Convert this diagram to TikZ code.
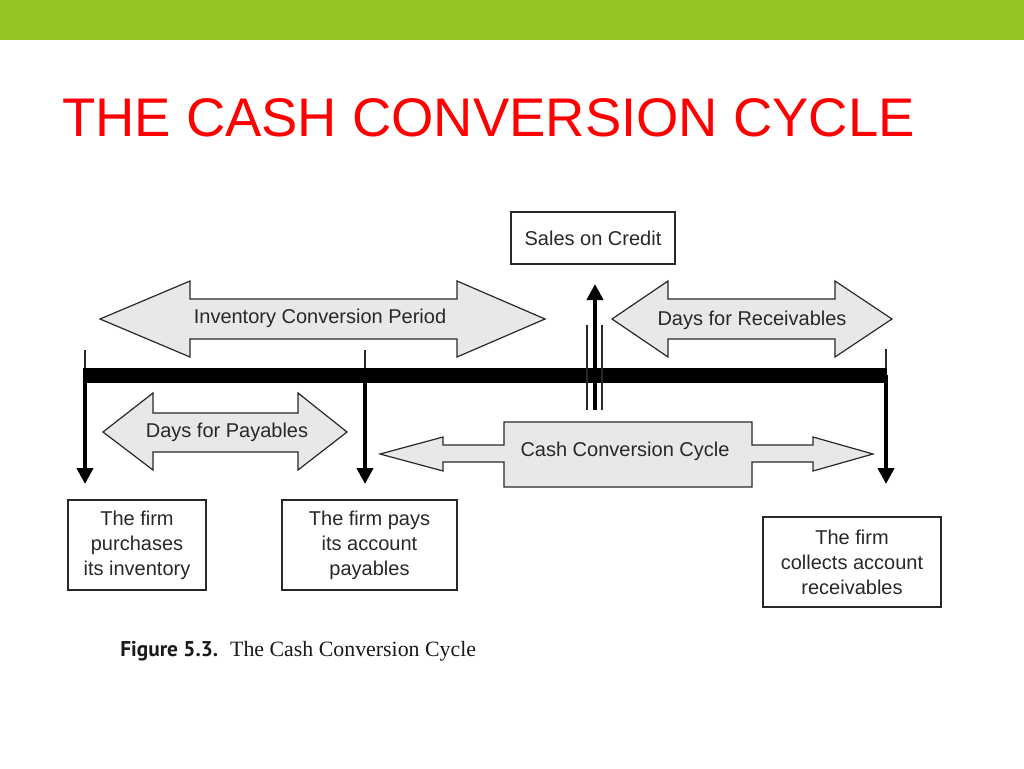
\documentclass[tikz,border=0pt]{standalone}
\usepackage{fontspec}
\setmainfont{Liberation Sans}
\newfontfamily\capsans{PT Sans}
\newfontfamily\capserif{Liberation Serif}
\usetikzlibrary{arrows.meta}
\definecolor{topgreen}{RGB}{150,196,35}
\definecolor{titlered}{RGB}{255,0,0}
\definecolor{ink}{RGB}{40,40,40}
\definecolor{arrfill}{RGB}{232,232,232}
\tikzset{
  shapearrow/.style={draw=ink, fill=arrfill, line width=0.9pt, line join=miter},
  arrlabel/.style={text=ink, font=\fontsize{15}{18}\selectfont, inner sep=0pt},
  boxnode/.style={draw=ink, line width=0.9pt, fill=white, text=ink, align=center,
    font=\fontsize{15}{18.75}\selectfont, inner sep=0pt},
  tick/.style={draw=ink, line width=0.8pt},
  downarrow/.style={draw=black, line width=3pt, -{Triangle[length=12pt,width=12pt]}},
}
\begin{document}
\begin{tikzpicture}[x=0.75pt,y=-0.75pt]
\useasboundingbox (0,0) rectangle (1024,768);
% top bar
\fill[topgreen] (0,0) rectangle (1024,40);
% title
\node[anchor=base west, inner sep=0pt, text=titlered, font=\fontsize{40.8}{48}\selectfont] (title) at (62,136) {THE CASH CONVERSION CYCLE};

% double arrows
\draw[shapearrow] (100,319) -- (190,281) -- (190,299) -- (457,299) -- (457,281) -- (545,319)
  -- (457,357) -- (457,339) -- (190,339) -- (190,357) -- cycle;
\node[arrlabel] (icp) at (320,318) {Inventory Conversion Period};

\draw[shapearrow] (612,319) -- (668,281) -- (668,299) -- (835,299) -- (835,281) -- (892,319)
  -- (835,357) -- (835,339) -- (668,339) -- (668,357) -- cycle;
\node[arrlabel] (dfr) at (752,320) {Days for Receivables};

\draw[shapearrow] (103,432) -- (153,393) -- (153,413) -- (298,413) -- (298,393) -- (347,432)
  -- (298,470) -- (298,452) -- (153,452) -- (153,470) -- cycle;
\node[arrlabel] (dfp) at (227,432) {Days for Payables};

\draw[shapearrow] (380,454) -- (443,437) -- (443,445) -- (504,445) -- (504,422) -- (752,422)
  -- (752,445) -- (813,445) -- (813,437) -- (873,454) -- (813,471) -- (813,462) -- (752,462)
  -- (752,487) -- (504,487) -- (504,462) -- (443,462) -- (443,471) -- cycle;
\node[arrlabel] (ccc) at (625,451) {Cash Conversion Cycle};

% timeline bar
\fill[black] (83,368) rectangle (887,383);
\coordinate (t1) at (85,368);
\coordinate (t2) at (365,368);
\coordinate (t3) at (886,368);
\draw[tick] (85,350) -- (t1);
\draw[tick] (365,350) -- (t2);
\draw[tick] (886,349) -- (t3);
\coordinate (d1) at (85,484);
\coordinate (d2) at (365,484);
\coordinate (d3) at (886,484);
\draw[downarrow] (85,375) -- (d1);
\draw[downarrow] (365,375) -- (d2);
\draw[downarrow] (886,375) -- (d3);

% sales on credit marker
\coordinate (sbot) at (595,410);
\coordinate (stop) at (595,284);
\draw[tick, line width=1.2pt] (587,325) -- (587,410);
\draw[tick, line width=1.2pt] (602,325) -- (602,410);
\draw[downarrow] (sbot) -- (stop);

% boxes
\node[boxnode, minimum width=123pt, minimum height=39pt] (soc) at (593,238) {Sales on Credit};
\node[boxnode, minimum width=103.5pt, minimum height=67.5pt] (b1) at (137,545)
  {The firm\\purchases\\its inventory};
\node[boxnode, minimum width=131.25pt, minimum height=67.5pt] (b2) at (369.5,545)
  {The firm pays\\its account\\payables};
\node[boxnode, minimum width=133.5pt, minimum height=67.5pt] (b3) at (852,562)
  {The firm\\collects account\\receivables};

% caption
\node[anchor=base west, inner sep=0pt, text=black!90] (cap) at (120,656)
  {{\capsans\bfseries\fontsize{16}{19}\selectfont Figure 5.3.}\hspace{9pt}{\capserif\fontsize{16.4}{19}\selectfont The Cash Conversion Cycle}};
\end{tikzpicture}
\end{document}
